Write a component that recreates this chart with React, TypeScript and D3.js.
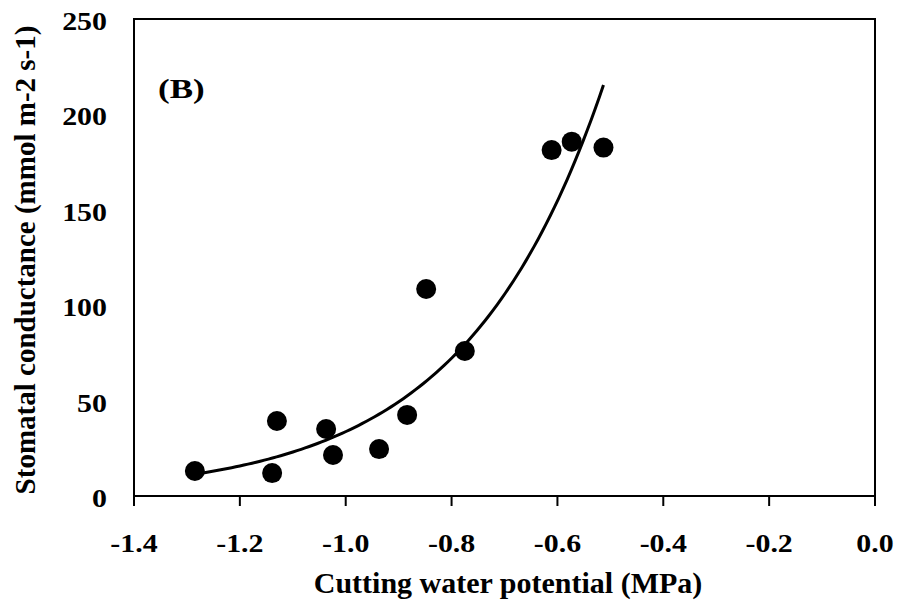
import React from "react";
import * as d3 from "d3";

const waterPotential = [-1.285, -1.139, -1.13, -1.037, -1.024, -0.937, -0.884, -0.848, -0.775, -0.611, -0.573, -0.513];
const conductance = [13.1, 12.0, 39.3, 35.1, 21.5, 24.6, 42.5, 108.5, 76, 181.3, 185.7, 182.6];
const xTicks = [-1.4, -1.2, -1.0, -0.8, -0.6, -0.4, -0.2, 0.0];
const yTicks = [0, 50, 100, 150, 200, 250];

const W = 898, H = 608;
const M = { left: 134, right: 875, top: 19, bottom: 496 };
const FONT = "'Liberation Serif', 'Times New Roman', serif";
const SX = 1.15;

export default function App() {
  const x = d3.scaleLinear().domain([-1.4, 0]).range([M.left, M.right]);
  const y = d3.scaleLinear().domain([0, 250]).range([M.bottom, M.top]);

  // Exponential trendline (least squares on ln y), as in a spreadsheet
  const n = waterPotential.length;
  const ly = conductance.map((v) => Math.log(v));
  const mx = d3.mean(waterPotential)!;
  const my = d3.mean(ly)!;
  let sxy = 0, sxx = 0;
  for (let i = 0; i < n; i++) {
    sxy += (waterPotential[i] - mx) * (ly[i] - my);
    sxx += (waterPotential[i] - mx) ** 2;
  }
  const b = sxy / sxx;
  const a = Math.exp(my - b * mx);
  const [x0, x1] = d3.extent(waterPotential) as [number, number];
  const trendX = d3.range(0, 101).map((i) => x0 + ((x1 - x0) * i) / 100);
  const line = d3
    .line<number>()
    .x((d) => x(d))
    .y((d) => y(a * Math.exp(b * d)));

  return (
    <svg width={W} height={H} style={{ position: "absolute", left: 0, top: 0, background: "#fff" }} fontFamily={FONT}>
      <rect x={0} y={0} width={W} height={H} fill="#fff" />
      {/* frame */}
      <rect x={M.left} y={M.top} width={M.right - M.left} height={M.bottom - M.top} fill="none" stroke="#000" strokeWidth={2} />
      {/* x ticks */}
      {xTicks.map((t) => (
        <g key={t}>
          <line x1={x(t)} x2={x(t)} y1={M.bottom} y2={M.bottom + 10} stroke="#000" strokeWidth={2} />
          <text transform={`translate(${x(t)}, 552) scale(${SX}, 1)`} textAnchor="middle" fontSize={26} fontWeight="bold">
            {t.toFixed(1)}
          </text>
        </g>
      ))}
      {/* y ticks */}
      {yTicks.map((t) => (
        <text key={t} transform={`translate(107, ${y(t) + 11}) scale(${SX}, 1)`} textAnchor="end" fontSize={26} fontWeight="bold">
          {t}
        </text>
      ))}
      {/* trendline */}
      <path d={line(trendX) || ""} fill="none" stroke="#000" strokeWidth={3} />
      {/* points */}
      {waterPotential.map((v, i) => (
        <circle key={i} cx={x(v)} cy={y(conductance[i])} r={10} fill="#000" />
      ))}
      {/* panel label */}
      <text transform="translate(158, 98) scale(1.25, 1)" fontSize={28} fontWeight="bold">(B)</text>
      {/* axis titles */}
      <text x={508} y={593} textAnchor="middle" fontSize={30} fontWeight="bold">
        Cutting water potential (MPa)
      </text>
      <text
        transform={`translate(35, 260) rotate(-90)`}
        textAnchor="middle"
        fontSize={29}
        fontWeight="bold"
      >
        Stomatal conductance (mmol m-2 s-1)
      </text>
    </svg>
  );
}
